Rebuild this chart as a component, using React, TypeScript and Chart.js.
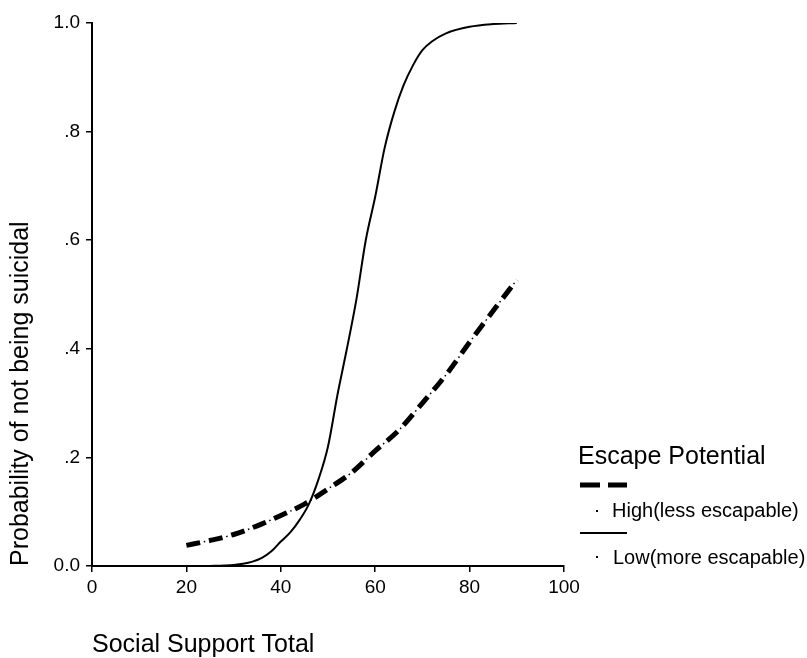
import React, { useEffect, useRef } from "react";
import { Chart, registerables } from "chart.js";

Chart.register(...registerables);

// Social Support Total values (x) and predicted probabilities (y)
const supportLow = [25, 28, 30, 32, 34, 36, 38, 40, 42, 44, 46, 48, 50, 52, 54, 56, 58, 60, 62, 64, 66, 68, 70, 72, 75, 80, 85, 90];
const lowEscape = [0, 0.001, 0.002, 0.004, 0.008, 0.015, 0.027, 0.045, 0.062, 0.085, 0.115, 0.16, 0.22, 0.315, 0.4, 0.49, 0.6, 0.68, 0.77, 0.835, 0.885, 0.922, 0.95, 0.966, 0.981, 0.993, 0.998, 1.0];

const supportHigh = [20, 25, 30, 35, 40, 45, 50, 55, 60, 65, 70, 75, 80, 85, 90];
const highEscape = [0.038, 0.047, 0.058, 0.074, 0.093, 0.114, 0.142, 0.172, 0.212, 0.25, 0.3, 0.352, 0.412, 0.47, 0.527];

const yTickLabels = ["0.0", ".2", ".4", ".6", ".8", "1.0"];
const xTitle = "Social Support Total";
const yTitle = "Probability of not being suicidal";
const legendTitle = "Escape Potential";
const seriesNames = ["High(less escapable)", "Low(more escapable)"];

const FONT = "'Liberation Sans', Arial, Helvetica, sans-serif";

const legendPlugin = {
  id: "customLegend",
  afterDraw(chart: any) {
    const { ctx, chartArea } = chart;
    const x0 = chartArea.right;
    const b = chartArea.bottom;
    ctx.save();
    ctx.fillStyle = "#000";
    ctx.strokeStyle = "#000";
    ctx.textBaseline = "middle";
    ctx.textAlign = "left";
    ctx.font = `25px ${FONT}`;
    ctx.fillText(legendTitle, x0 + 14, b - 109);

    // dashed sample
    ctx.lineWidth = 5;
    ctx.beginPath();
    ctx.moveTo(x0 + 16, b - 81);
    ctx.lineTo(x0 + 36, b - 81);
    ctx.moveTo(x0 + 44, b - 81);
    ctx.lineTo(x0 + 63, b - 81);
    ctx.stroke();

    // solid sample
    ctx.lineWidth = 2;
    ctx.beginPath();
    ctx.moveTo(x0 + 16, b - 33);
    ctx.lineTo(x0 + 63, b - 33);
    ctx.stroke();

    // tiny dots
    ctx.fillRect(x0 + 32, b - 56, 2, 2);
    ctx.fillRect(x0 + 32, b - 10, 2, 2);

    ctx.font = `20px ${FONT}`;
    ctx.fillText(seriesNames[0], x0 + 48, b - 55);
    ctx.fillText(seriesNames[1], x0 + 49, b - 8);
    ctx.restore();
  },
};

export default function App() {
  const ref = useRef<HTMLCanvasElement | null>(null);

  useEffect(() => {
    if (!ref.current) return;
    const highPts = supportHigh.map((x, i) => ({ x, y: highEscape[i] }));
    const lowPts = supportLow.map((x, i) => ({ x, y: lowEscape[i] }));

    const chart = new Chart(ref.current, {
      type: "line",
      data: {
        datasets: [
          {
            label: seriesNames[1],
            data: lowPts,
            borderColor: "#000",
            borderWidth: 2,
            pointRadius: 0,
            cubicInterpolationMode: "monotone",
            fill: false,
          },
          {
            label: seriesNames[0],
            data: highPts,
            borderColor: "#000",
            borderWidth: 5,
            borderDash: [14, 9],
            borderCapStyle: "butt",
            pointRadius: 0,
            cubicInterpolationMode: "monotone",
            fill: false,
          },
          {
            label: seriesNames[0] + " dots",
            data: highPts,
            borderColor: "#000",
            borderWidth: 1.5,
            borderDash: [1.5, 21.5],
            borderDashOffset: 5.25,
            pointRadius: 0,
            cubicInterpolationMode: "monotone",
            fill: false,
          },
        ],
      },
      options: {
        responsive: false,
        animation: false,
        layout: { padding: { left: 0, top: 23, right: 243, bottom: 0 } },
        plugins: {
          legend: { display: false },
          tooltip: { enabled: false },
        },
        scales: {
          x: {
            type: "linear",
            min: 0,
            max: 100,
            afterFit: (s: any) => {
              s.height = 92;
            },
            ticks: {
              stepSize: 20,
              color: "#000",
              font: { family: FONT, size: 19 },
              padding: 4,
              maxRotation: 0,
            },
            grid: {
              drawOnChartArea: false,
              drawTicks: true,
              tickLength: 6,
              color: "#000",
              lineWidth: 1.5,
            },
            border: { display: true, color: "#000", width: 2 },
            title: {
              display: true,
              text: xTitle,
              align: "start",
              color: "#000",
              font: { family: FONT, size: 25, lineHeight: 1 },
              padding: { top: 0, bottom: 0 },
            },
          },
          y: {
            type: "linear",
            min: 0,
            max: 1,
            afterFit: (s: any) => {
              s.width = 92;
            },
            ticks: {
              stepSize: 0.2,
              color: "#000",
              font: { family: FONT, size: 19 },
              padding: 6,
              callback: (v: any) => yTickLabels[Math.round(Number(v) / 0.2)],
            },
            grid: {
              drawOnChartArea: false,
              drawTicks: true,
              tickLength: 6,
              color: "#000",
              lineWidth: 1.5,
            },
            border: { display: true, color: "#000", width: 2 },
            title: {
              display: true,
              text: yTitle,
              align: "start",
              color: "#000",
              font: { family: FONT, size: 25, lineHeight: 1 },
              padding: { top: 9, bottom: 0 },
            },
          },
        },
      },
      plugins: [legendPlugin],
    });
    return () => chart.destroy();
  }, []);

  return (
    <div style={{ position: "absolute", left: 0, top: 0, width: 807, height: 658, background: "#fff" }}>
      <canvas ref={ref} width={807} height={658} style={{ display: "block", width: 807, height: 658 }} />
    </div>
  );
}
